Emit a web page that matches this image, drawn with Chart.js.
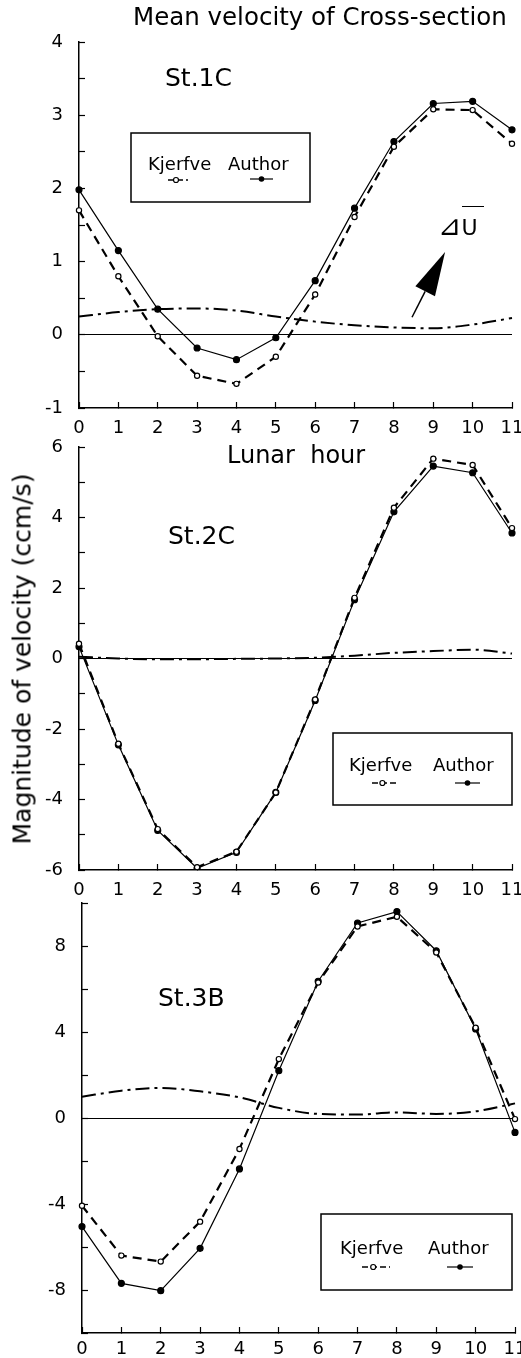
<!DOCTYPE html>
<html>
<head>
<meta charset="utf-8">
<script src="https://cdn.jsdelivr.net/npm/chart.js@4.4.0/dist/chart.umd.min.js"></script>
<style>
body { margin: 0; background: #fff; width: 521px; height: 1358px; overflow: hidden; position: relative; font-family: "DejaVu Sans", sans-serif; color: #000; }
canvas { position: absolute; left: 0; top: 0; }
.lbl { position: absolute; white-space: pre; line-height: 1; transform: translateY(-50%); }
</style>
</head>
<body>
<canvas id="st1" width="521" height="1358"></canvas>
<canvas id="st2" width="521" height="1358"></canvas>
<canvas id="st3" width="521" height="1358"></canvas>

<div class="lbl" style="left:133px;top:17px;font-size:24.5px">Mean velocity of Cross-section</div>
<div class="lbl" style="left:227px;top:455px;font-size:24px">Lunar  hour</div>
<div class="lbl" style="left:22px;top:659px;font-size:25px;transform:translate(-50%,-50%) rotate(-90deg)">Magnitude of velocity (ccm/s)</div>

<div class="lbl" style="left:165px;top:77px;font-size:25px">St.1C</div>
<div class="lbl" style="left:168px;top:535px;font-size:25px">St.2C</div>
<div class="lbl" style="left:158px;top:997px;font-size:25px">St.3B</div>

<div class="lbl" style="left:148px;top:164px;font-size:18px">Kjerfve</div>
<div class="lbl" style="left:228px;top:164px;font-size:18px">Author</div>
<div class="lbl" style="left:349px;top:765px;font-size:18px">Kjerfve</div>
<div class="lbl" style="left:433px;top:765px;font-size:18px">Author</div>
<div class="lbl" style="left:340px;top:1248px;font-size:18px">Kjerfve</div>
<div class="lbl" style="left:428px;top:1248px;font-size:18px">Author</div>

<div class="lbl" style="left:438px;top:226px;font-size:22px"><span style="font-size:28px">⊿</span>U</div>
<div style="position:absolute;left:462px;top:206px;width:22px;border-top:1.5px solid #000"></div>

<script>
// lunar hours on the x axis
const hours = ['0', '1', '2', '3', '4', '5', '6', '7', '8', '9', '10', '11'];

// St.1C
const st1Kjerfve = [1.70, 0.80, -0.02, -0.56, -0.67, -0.30, 0.55, 1.61, 2.57, 3.08, 3.07, 2.61];
const st1Author  = [1.98, 1.15, 0.35, -0.18, -0.34, -0.04, 0.74, 1.73, 2.64, 3.16, 3.19, 2.80];
const st1DeltaU  = [0.25, 0.31, 0.35, 0.36, 0.33, 0.25, 0.18, 0.13, 0.10, 0.09, 0.14, 0.23];

// St.2C
const st2Kjerfve = [0.42, -2.42, -4.84, -5.92, -5.48, -3.80, -1.16, 1.72, 4.28, 5.67, 5.49, 3.70];
const st2Author  = [0.33, -2.45, -4.88, -5.95, -5.50, -3.80, -1.19, 1.67, 4.16, 5.46, 5.27, 3.56];
const st2DeltaU  = [0.05, 0.00, -0.02, -0.02, -0.01, 0.00, 0.02, 0.08, 0.16, 0.21, 0.25, 0.14];

// St.3B
const st3Kjerfve = [-4.08, -6.40, -6.68, -4.82, -1.44, 2.74, 6.30, 8.91, 9.36, 7.70, 4.20, -0.05];
const st3Author  = [-5.05, -7.69, -8.03, -6.06, -2.37, 2.20, 6.36, 9.07, 9.60, 7.78, 4.14, -0.67];
const st3DeltaU  = [0.99, 1.27, 1.40, 1.24, 0.96, 0.47, 0.19, 0.16, 0.26, 0.19, 0.31, 0.68];

const tickFont = { family: 'DejaVu Sans', size: 18 };

// legend boxes, sample lines and the arrow pointing at the delta-U curve
const extras = {
    id: 'extras',
    afterDatasetsDraw(chart, args, opts) {
        const c = chart.ctx;
        c.save();
        c.strokeStyle = '#000';
        c.fillStyle = '#000';
        if (opts.box) {
            const b = opts.box;
            c.lineWidth = 1.5;
            c.strokeRect(b[0], b[1], b[2] - b[0], b[3] - b[1]);

            // Kjerfve: dashed with an open circle
            const k = opts.kjerfve;
            c.lineWidth = 1.6;
            c.setLineDash([6, 3]);
            c.beginPath();
            c.moveTo(k[0], k[2]);
            c.lineTo(k[1], k[2]);
            c.stroke();
            c.setLineDash([]);
            c.beginPath();
            c.arc(k[0] + (k[1] - k[0]) * 0.4, k[2], 2.5, 0, Math.PI * 2);
            c.fillStyle = '#fff';
            c.fill();
            c.lineWidth = 1.2;
            c.stroke();

            // Author: solid with a filled dot
            const a = opts.author;
            c.fillStyle = '#000';
            c.lineWidth = 1.2;
            c.beginPath();
            c.moveTo(a[0], a[2]);
            c.lineTo(a[1], a[2]);
            c.stroke();
            c.beginPath();
            c.arc((a[0] + a[1]) / 2, a[2], 2.8, 0, Math.PI * 2);
            c.fill();
        }
        if (opts.arrow) {
            const xs = chart.scales.x, ys = chart.scales.y;
            const x0 = xs.getPixelForValue(opts.arrow.from[0]), y0 = ys.getPixelForValue(opts.arrow.from[1]);
            const x1 = xs.getPixelForValue(opts.arrow.to[0]), y1 = ys.getPixelForValue(opts.arrow.to[1]);
            const len = Math.hypot(x1 - x0, y1 - y0);
            const ux = (x1 - x0) / len, uy = (y1 - y0) / len;
            const head = 44, half = 11;
            const bx = x1 - ux * head, by = y1 - uy * head;
            c.lineWidth = 1.5;
            c.beginPath();
            c.moveTo(x0, y0);
            c.lineTo(bx, by);
            c.stroke();
            c.beginPath();
            c.moveTo(x1, y1);
            c.lineTo(bx - uy * half, by + ux * half);
            c.lineTo(bx + uy * half, by - ux * half);
            c.closePath();
            c.fill();
        }
        c.restore();
    }
};

function makePanel(id, cfg) {
    const ctx = document.getElementById(id).getContext('2d');
    return new Chart(ctx, {
        type: 'line',
        data: {
            labels: hours,
            datasets: [{
                label: 'Kjerfve',
                data: cfg.kjerfve,
                borderColor: '#000',
                borderWidth: 2.2,
                borderDash: [9, 6],
                pointRadius: 2.6,
                pointBackgroundColor: '#fff',
                pointBorderColor: '#000',
                pointBorderWidth: 1.2
            }, {
                label: 'Author',
                data: cfg.author,
                borderColor: '#000',
                borderWidth: 1.2,
                pointRadius: 3,
                pointBackgroundColor: '#000',
                pointBorderColor: '#000'
            }, {
                label: 'dU',
                data: cfg.deltaU,
                borderColor: '#000',
                borderWidth: 2,
                borderDash: [14, 5, 3, 5],
                pointRadius: 0,
                cubicInterpolationMode: 'monotone'
            }]
        },
        plugins: [extras],
        options: {
            responsive: false,
            animation: false,
            events: [],
            layout: { padding: cfg.padding },
            plugins: {
                legend: { display: false },
                tooltip: { enabled: false },
                extras: cfg.extras
            },
            scales: {
                x: {
                    // fixed axis height, no extra room for the end labels
                    afterFit: s => { s.height = cfg.xHeight; s.paddingLeft = 0; s.paddingRight = 0; },
                    grid: { drawOnChartArea: false, tickLength: -6, tickColor: '#000', tickWidth: 1.2 },
                    border: { color: '#000', width: 1.5 },
                    ticks: { font: tickFont, color: '#000', padding: cfg.xPad, maxRotation: 0, autoSkip: false }
                },
                y: {
                    min: cfg.min,
                    max: cfg.max,
                    afterFit: s => { s.width = cfg.left; s.paddingTop = 0; s.paddingBottom = 0; },
                    grid: {
                        // only the zero line is drawn across the plot
                        color: c => (c.tick && c.tick.value === 0) ? '#000' : 'rgba(0,0,0,0)',
                        lineWidth: 1,
                        tickLength: -6,
                        tickColor: '#000',
                        tickWidth: 1.2
                    },
                    border: { color: '#000', width: 1.5 },
                    ticks: {
                        font: tickFont,
                        color: '#000',
                        padding: 22,
                        stepSize: cfg.step,
                        callback: v => (Math.abs(v % cfg.labelEvery) < 1e-9 ? v : '')
                    }
                }
            }
        }
    });
}

makePanel('st1', {
    kjerfve: st1Kjerfve, author: st1Author, deltaU: st1DeltaU,
    min: -1, max: 4, step: 0.5, labelEvery: 1,
    left: 79, xHeight: 32, xPad: 16,
    padding: { top: 42, left: 0, right: 9, bottom: 1358 - 408 - 32 },
    extras: {
        box: [131, 133, 310, 202],
        kjerfve: [168, 188, 180],
        author: [250, 273, 179],
        arrow: { from: [8.46, 0.24], to: [9.30, 1.13] }
    }
});

makePanel('st2', {
    kjerfve: st2Kjerfve, author: st2Author, deltaU: st2DeltaU,
    min: -6, max: 6, step: 1, labelEvery: 2,
    left: 79, xHeight: 32, xPad: 16,
    padding: { top: 447, left: 0, right: 9, bottom: 1358 - 870 - 32 },
    extras: {
        box: [333, 733, 512, 805],
        kjerfve: [372, 398, 783],
        author: [455, 480, 783]
    }
});

makePanel('st3', {
    kjerfve: st3Kjerfve, author: st3Author, deltaU: st3DeltaU,
    min: -10, max: 10, step: 2, labelEvery: 4,
    left: 82, xHeight: 25, xPad: 12,
    padding: { top: 903, left: 0, right: 6, bottom: 0 },
    extras: {
        box: [321, 1214, 512, 1290],
        kjerfve: [362, 390, 1267],
        author: [447, 473, 1267]
    }
});
</script>
</body>
</html>
